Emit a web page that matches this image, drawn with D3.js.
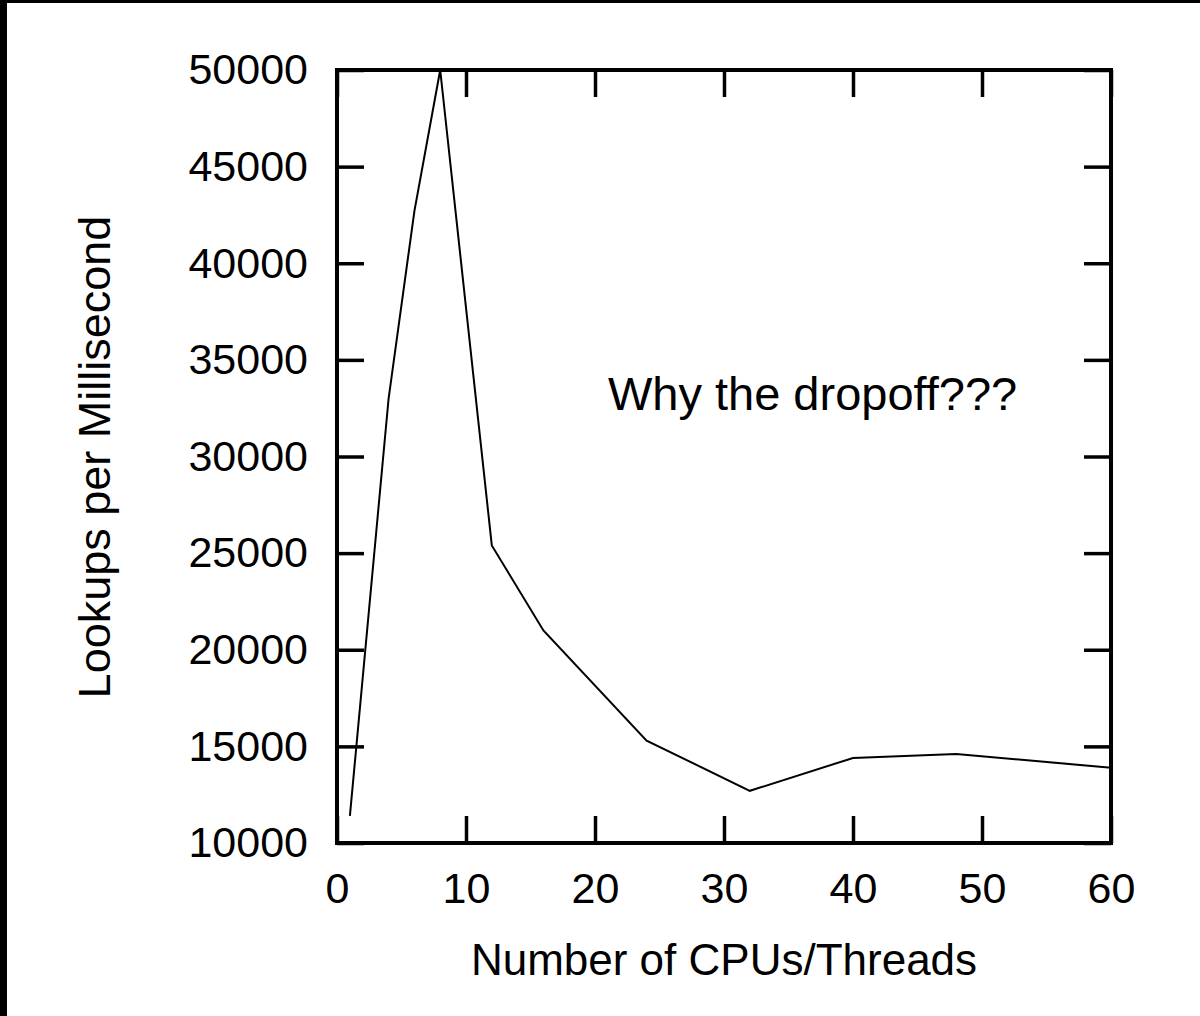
<!DOCTYPE html>
<html>
<head>
<meta charset="utf-8">
<script src="https://cdn.jsdelivr.net/npm/d3@7"></script>
<style>
  body { margin: 0; background: #fff; }
  text { font-family: "Liberation Sans", Arial, sans-serif; fill: #000; }
</style>
</head>
<body>
<div id="chart"></div>
<script>
// data
const threads = [1, 4, 6, 8, 12, 16, 24, 32, 40, 48, 60];
const lookups = [11400, 33000, 42700, 50000, 25400, 21000, 15300, 12700, 14400, 14600, 13900];
const xTicks = [0, 10, 20, 30, 40, 50, 60];
const yTicks = [10000, 15000, 20000, 25000, 30000, 35000, 40000, 45000, 50000];

const W = 1200, H = 1016;
let margin = {top: 70, right: 89, bottom: 173, left: 337},
  width = W - margin.left - margin.right,
  height = H - margin.top - margin.bottom;

const root = d3.select("#chart")
  .append("svg")
    .attr("width", W)
    .attr("height", H);

// black strips at the top and left edges of the picture
root.append("rect").attr("x", 0).attr("y", 0).attr("width", W).attr("height", 3).attr("fill", "#000");
root.append("rect").attr("x", 0).attr("y", 0).attr("width", 7).attr("height", H).attr("fill", "#000");

const svg = root.append("g")
  .attr("transform", "translate(" + margin.left + "," + margin.top + ")");

let x = d3.scaleLinear().domain([0, 60]).range([0, width]);
let y = d3.scaleLinear().domain([10000, 50000]).range([height, 0]);

const tickLen = 27;
const fmt = d3.format("d");

// axes with inward ticks on all four sides
function styleAxis(g, showText, fs) {
  g.select(".domain").remove();
  g.selectAll(".tick line").attr("stroke", "#000").attr("stroke-width", 3.5);
  g.selectAll(".tick text").style("font-size", fs + "px");
  if (!showText) g.selectAll(".tick text").remove();
}

svg.append("g")
  .attr("transform", "translate(0," + height + ")")
  .call(d3.axisBottom(x).tickValues(xTicks).tickFormat(fmt).tickSize(-tickLen).tickSizeOuter(0).tickPadding(29))
  .call(g => styleAxis(g, true, 43));

svg.append("g")
  .call(d3.axisTop(x).tickValues(xTicks).tickSize(-tickLen).tickSizeOuter(0))
  .call(g => styleAxis(g, false, 43));

svg.append("g")
  .call(d3.axisLeft(y).tickValues(yTicks).tickFormat(fmt).tickSize(-tickLen).tickSizeOuter(0).tickPadding(29))
  .call(g => styleAxis(g, true, 43));

svg.append("g")
  .attr("transform", "translate(" + width + ",0)")
  .call(d3.axisRight(y).tickValues(yTicks).tickSize(-tickLen).tickSizeOuter(0))
  .call(g => styleAxis(g, false, 43));

// frame
svg.append("rect")
  .attr("x", 0).attr("y", 0)
  .attr("width", width).attr("height", height)
  .attr("fill", "none")
  .attr("stroke", "#000")
  .attr("stroke-width", 4);

// the data line
const line = d3.line()
  .x((d, i) => x(threads[i]))
  .y(d => y(d));

svg.append("path")
  .datum(lookups)
  .attr("d", line)
  .attr("fill", "none")
  .attr("stroke", "#000")
  .attr("stroke-width", 2);

// annotation
svg.append("text")
  .attr("x", x(21))
  .attr("y", y(32400))
  .style("font-size", "47px")
  .text("Why the dropoff???");

// axis titles
svg.append("text")
  .attr("x", width / 2)
  .attr("y", height + 132)
  .attr("text-anchor", "middle")
  .style("font-size", "44px")
  .text("Number of CPUs/Threads");

svg.append("text")
  .attr("transform", "translate(" + (110 - margin.left) + "," + (457 - margin.top) + ")rotate(-90)")
  .attr("text-anchor", "middle")
  .style("font-size", "45px")
  .text("Lookups per Millisecond");
</script>
</body>
</html>
